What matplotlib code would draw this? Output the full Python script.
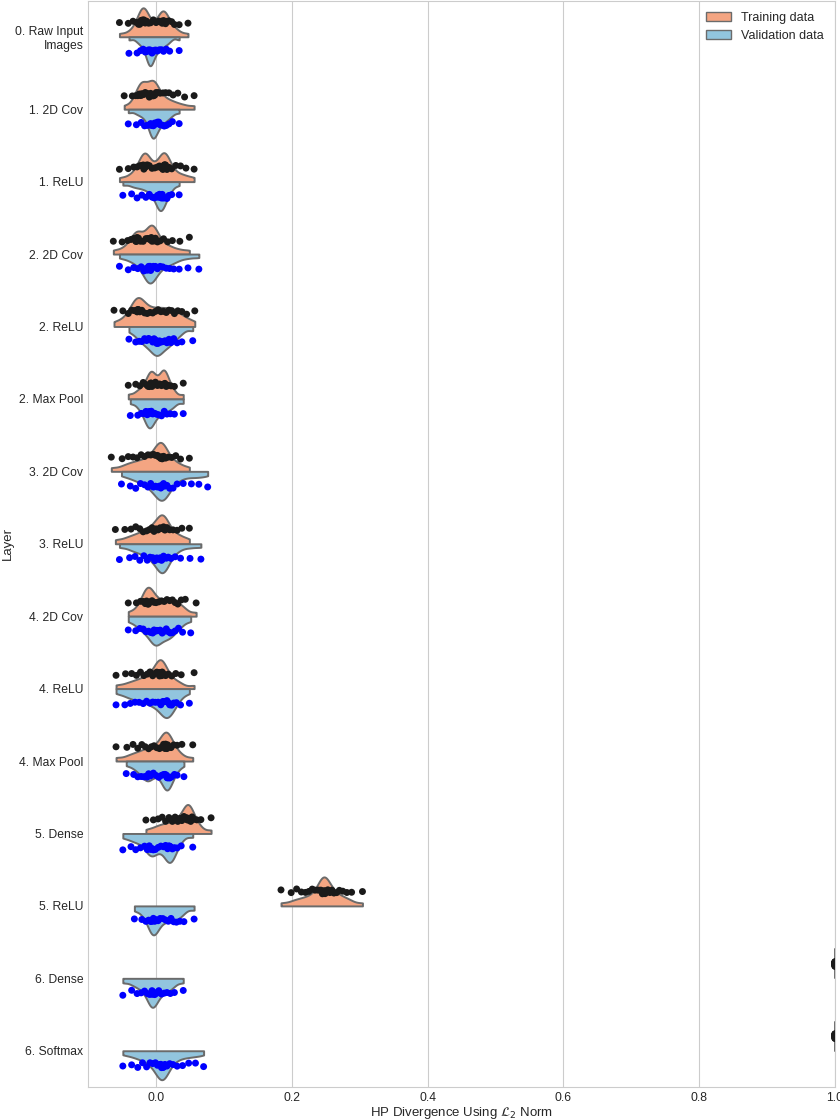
import matplotlib
matplotlib.use('Agg')
import matplotlib.pyplot as plt
from matplotlib.patches import Patch
import numpy as np
import pandas as pd
import seaborn as sns

# layer names, top to bottom
layers = ['0. Raw Input\nImages', '1. 2D Cov', '1. ReLU', '2. 2D Cov', '2. ReLU',
          '2. Max Pool', '3. 2D Cov', '3. ReLU', '4. 2D Cov', '4. ReLU',
          '4. Max Pool', '5. Dense', '5. ReLU', '6. Dense', '6. Softmax']

# divergence values, one list per layer
train = [
    [-0.054, -0.041, -0.034, -0.029, -0.026, -0.024, -0.022, -0.021, -0.020, -0.019, -0.018, -0.017, -0.016, -0.014, -0.011, -0.008, -0.004, 0.000, 0.004, 0.006, 0.008, 0.009, 0.010, 0.011, 0.012, 0.014, 0.016, 0.019, 0.023, 0.027, 0.034, 0.047],
    [-0.047, -0.035, -0.030, -0.027, -0.025, -0.023, -0.022, -0.021, -0.020, -0.018, -0.016, -0.013, -0.010, -0.008, -0.006, -0.005, -0.004, -0.003, -0.002, 0.000, 0.003, 0.006, 0.010, 0.014, 0.019, 0.025, 0.032, 0.042, 0.056],
    [-0.054, -0.041, -0.033, -0.028, -0.024, -0.021, -0.019, -0.018, -0.017, -0.016, -0.015, -0.013, -0.010, -0.006, -0.002, 0.002, 0.005, 0.008, 0.010, 0.011, 0.012, 0.013, 0.014, 0.016, 0.019, 0.023, 0.029, 0.036, 0.044, 0.056],
    [-0.063, -0.050, -0.042, -0.037, -0.033, -0.030, -0.029, -0.028, -0.026, -0.023, -0.019, -0.015, -0.012, -0.010, -0.008, -0.007, -0.006, -0.005, -0.003, -0.001, 0.002, 0.006, 0.011, 0.017, 0.024, 0.035, 0.049],
    [-0.062, -0.049, -0.041, -0.036, -0.032, -0.030, -0.028, -0.027, -0.026, -0.024, -0.021, -0.017, -0.013, -0.009, -0.005, -0.001, 0.003, 0.007, 0.011, 0.015, 0.019, 0.023, 0.027, 0.032, 0.038, 0.045, 0.057],
    [-0.041, -0.030, -0.024, -0.019, -0.015, -0.012, -0.010, -0.008, -0.007, -0.006, -0.004, -0.001, 0.002, 0.005, 0.008, 0.010, 0.011, 0.012, 0.013, 0.015, 0.018, 0.022, 0.027, 0.040],
    [-0.066, -0.050, -0.041, -0.034, -0.028, -0.022, -0.017, -0.012, -0.008, -0.004, -0.001, 0.002, 0.004, 0.006, 0.007, 0.008, 0.009, 0.011, 0.014, 0.018, 0.023, 0.029, 0.036, 0.049],
    [-0.060, -0.046, -0.037, -0.030, -0.024, -0.019, -0.014, -0.010, -0.006, -0.003, 0.000, 0.003, 0.006, 0.008, 0.009, 0.010, 0.011, 0.013, 0.016, 0.020, 0.025, 0.031, 0.038, 0.049],
    [-0.041, -0.029, -0.023, -0.019, -0.016, -0.014, -0.013, -0.012, -0.011, -0.009, -0.006, -0.003, 0.000, 0.004, 0.008, 0.012, 0.016, 0.020, 0.024, 0.028, 0.032, 0.037, 0.043, 0.059],
    [-0.059, -0.045, -0.036, -0.029, -0.023, -0.018, -0.013, -0.009, -0.005, -0.002, 0.001, 0.003, 0.005, 0.006, 0.007, 0.008, 0.009, 0.011, 0.014, 0.018, 0.023, 0.029, 0.037, 0.056],
    [-0.059, -0.043, -0.034, -0.027, -0.021, -0.016, -0.011, -0.007, -0.003, 0.001, 0.005, 0.008, 0.011, 0.013, 0.014, 0.015, 0.016, 0.017, 0.019, 0.022, 0.026, 0.031, 0.038, 0.054],
    [-0.015, -0.004, 0.003, 0.009, 0.014, 0.019, 0.024, 0.028, 0.032, 0.035, 0.038, 0.041, 0.043, 0.045, 0.046, 0.047, 0.048, 0.049, 0.051, 0.053, 0.056, 0.060, 0.066, 0.081],
    [0.184, 0.199, 0.207, 0.214, 0.220, 0.225, 0.230, 0.234, 0.238, 0.241, 0.243, 0.245, 0.246, 0.247, 0.247, 0.248, 0.249, 0.251, 0.253, 0.256, 0.259, 0.262, 0.266, 0.270, 0.275, 0.281, 0.288, 0.304],
    [1.0] * 20,
    [1.0] * 20,
]
valid = [
    [-0.040, -0.028, -0.023, -0.019, -0.016, -0.014, -0.012, -0.011, -0.010, -0.009, -0.009, -0.008, -0.007, -0.006, -0.004, -0.002, 0.000, 0.002, 0.005, 0.008, 0.011, 0.015, 0.020, 0.034],
    [-0.041, -0.029, -0.022, -0.017, -0.013, -0.010, -0.008, -0.007, -0.006, -0.005, -0.004, -0.003, -0.002, 0.000, 0.002, 0.004, 0.006, 0.009, 0.012, 0.015, 0.019, 0.024, 0.034],
    [-0.049, -0.036, -0.028, -0.021, -0.015, -0.010, -0.006, -0.003, 0.000, 0.002, 0.004, 0.005, 0.006, 0.007, 0.008, 0.009, 0.011, 0.013, 0.016, 0.019, 0.023, 0.034],
    [-0.054, -0.041, -0.033, -0.027, -0.022, -0.018, -0.015, -0.013, -0.011, -0.010, -0.009, -0.008, -0.006, -0.004, -0.001, 0.002, 0.006, 0.010, 0.015, 0.020, 0.026, 0.034, 0.047, 0.063],
    [-0.040, -0.030, -0.025, -0.021, -0.017, -0.014, -0.011, -0.008, -0.005, -0.003, -0.001, 0.001, 0.003, 0.005, 0.007, 0.010, 0.013, 0.016, 0.019, 0.022, 0.026, 0.031, 0.038, 0.054],
    [-0.038, -0.027, -0.022, -0.018, -0.015, -0.013, -0.011, -0.010, -0.009, -0.007, -0.005, -0.002, 0.001, 0.004, 0.008, 0.012, 0.016, 0.021, 0.027, 0.040],
    [-0.051, -0.038, -0.030, -0.023, -0.017, -0.012, -0.008, -0.004, -0.001, 0.002, 0.005, 0.007, 0.009, 0.010, 0.011, 0.013, 0.016, 0.020, 0.025, 0.031, 0.040, 0.052, 0.063, 0.076],
    [-0.054, -0.039, -0.031, -0.024, -0.018, -0.013, -0.009, -0.005, -0.002, 0.001, 0.004, 0.006, 0.008, 0.009, 0.010, 0.011, 0.013, 0.015, 0.018, 0.022, 0.028, 0.036, 0.050, 0.066],
    [-0.041, -0.030, -0.024, -0.019, -0.015, -0.011, -0.008, -0.005, -0.003, -0.001, 0.001, 0.003, 0.006, 0.009, 0.012, 0.015, 0.018, 0.021, 0.024, 0.028, 0.033, 0.039, 0.051],
    [-0.059, -0.046, -0.038, -0.031, -0.025, -0.019, -0.014, -0.009, -0.005, -0.001, 0.003, 0.007, 0.010, 0.012, 0.014, 0.016, 0.018, 0.020, 0.023, 0.026, 0.030, 0.036, 0.049],
    [-0.044, -0.033, -0.027, -0.022, -0.018, -0.015, -0.013, -0.011, -0.008, -0.004, 0.000, 0.004, 0.008, 0.011, 0.013, 0.015, 0.016, 0.017, 0.018, 0.020, 0.023, 0.027, 0.031, 0.041],
    [-0.049, -0.037, -0.030, -0.023, -0.017, -0.013, -0.010, -0.008, -0.006, -0.004, -0.001, 0.003, 0.007, 0.011, 0.014, 0.017, 0.019, 0.020, 0.021, 0.022, 0.024, 0.027, 0.031, 0.037, 0.054],
    [-0.032, -0.021, -0.015, -0.011, -0.008, -0.006, -0.005, -0.004, -0.002, 0.000, 0.003, 0.006, 0.010, 0.014, 0.018, 0.022, 0.026, 0.030, 0.035, 0.041, 0.056],
    [-0.049, -0.036, -0.028, -0.022, -0.017, -0.013, -0.010, -0.008, -0.006, -0.005, -0.004, -0.002, 0.001, 0.004, 0.008, 0.012, 0.016, 0.021, 0.027, 0.040],
    [-0.049, -0.036, -0.027, -0.020, -0.014, -0.009, -0.005, -0.001, 0.002, 0.005, 0.007, 0.008, 0.009, 0.010, 0.011, 0.013, 0.016, 0.020, 0.025, 0.031, 0.039, 0.048, 0.058, 0.070],
]

sets = ['Training data', 'Validation data']
violin_colors = ['#f4a582', '#92c5de']
dot_colors = ['#1a1a1a', '#0000ff']

rows = []
for i, lay in enumerate(layers):
    for v in train[i]:
        rows.append((lay, sets[0], v))
    for v in valid[i]:
        rows.append((lay, sets[1], v))
df = pd.DataFrame(rows, columns=['layer', 'set', 'value'])

sns.set_style('whitegrid')
plt.rcParams['font.family'] = ['Liberation Sans', 'DejaVu Sans']
plt.rcParams['axes.edgecolor'] = '0.8'
np.random.seed(3)

fig, ax = plt.subplots(figsize=(8.4, 11.2), dpi=100)
fig.subplots_adjust(left=0.105, right=0.994, top=0.9995, bottom=0.0295)

sns.violinplot(data=df, x='value', y='layer', hue='set', order=layers, hue_order=sets,
               split=True, inner=None, cut=0, density_norm='width', bw_method=0.3,
               palette=violin_colors, saturation=1, linecolor='0.42', linewidth=1.4,
               width=0.8, legend=False, ax=ax)
sns.stripplot(data=df, x='value', y='layer', hue='set', order=layers, hue_order=sets,
              dodge=True, jitter=0.07, size=5, palette=dot_colors, legend=False, ax=ax)

ax.set_xlim(-0.1, 1.0)
ax.set_xlabel(r'HP Divergence Using $\mathcal{L}_2$ Norm', fontsize=9.5, labelpad=1)
ax.set_ylabel('Layer', fontsize=9.5, labelpad=1)
ax.tick_params(axis='both', labelsize=8.7, length=0, pad=3.5)

handles = [Patch(facecolor=violin_colors[k], edgecolor='0.42', label=sets[k]) for k in range(2)]
ax.legend(handles=handles, loc='upper right', frameon=False, fontsize=9)

plt.savefig('out.png')
